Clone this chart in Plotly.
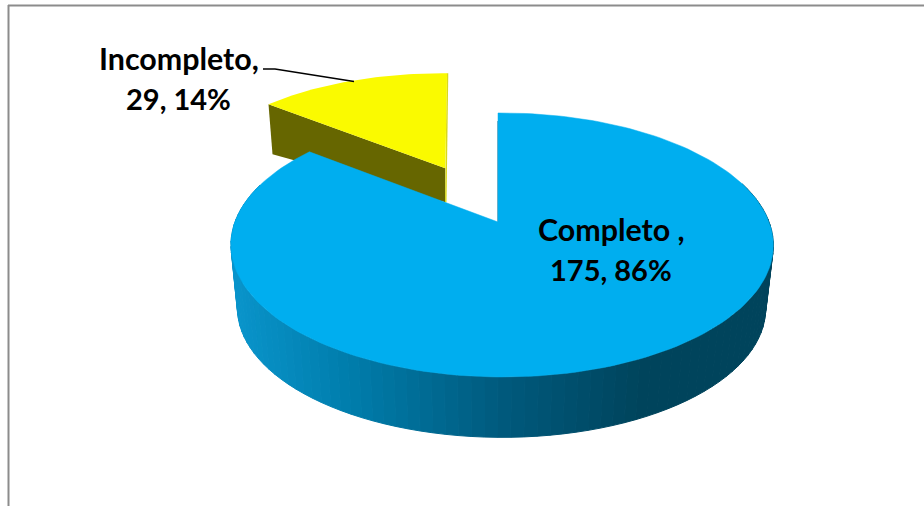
import math
import plotly.graph_objects as go

# ---- data ----
categories = ["Completo", "Incompleto"]
values = [175, 29]
percents = ["86%", "14%"]
label_lines = {"Completo": ["Completo ,", "175, 86%"], "Incompleto": ["Incompleto,", "29, 14%"]}

# ---- 3-D projection parameters (style only) ----
W, H = 924, 506
CX, CY, RX, RY = 498.0, 222.0, 267.0, 128.0
KV, KU = 0.174, -0.015
KU_SMALL = 0.015
SHEAR_SMALL, DX_SMALL = 0.06, 1.0
BCX, BCY, BRX, BRY = 497.5, 286.0, 260.0, 125.0
EXPLODE = 0.5
SWEEP_TWEAK = -1.0
BLUE, YELLOW, OLIVE = "#00AEEF", "#FAFA00", "#666600"
GRAD = [(230, (10, 150, 205)), (350, (0, 125, 172)), (500, (0, 90, 125)),
        (640, (0, 68, 92)), (780, (0, 68, 92))]

total = sum(values)
frac_blue = values[0] / total
sweep_blue = 360 * frac_blue


def proj(u, v, bottom=False):
    s = 1 / (1 + KV * v + KU * u)
    if bottom:
        return BCX + BRX * u * s, BCY - BRY * v * s
    return CX + RX * u * s, CY - RY * v * s


def proj_small(u, v):
    s = 1 / (1 + KV * v + KU_SMALL * u)
    y = CY - RY * v * s
    x = CX + RX * u * s + DX_SMALL + SHEAR_SMALL * (y - 170)
    return x, y


def circ(deg, ox=0.0, oy=0.0):
    a = math.radians(deg)
    return ox + math.sin(a), oy + math.cos(a)


def arc(a0, a1, n, bottom=False):
    return [proj(*circ(a0 + (a1 - a0) * i / n), bottom) for i in range(n + 1)]


def grad_color(x):
    for (x0, c0), (x1, c1) in zip(GRAD, GRAD[1:]):
        if x0 <= x <= x1:
            t = (x - x0) / (x1 - x0)
            c = [round(a + (b - a) * t) for a, b in zip(c0, c1)]
            return f"rgb({c[0]},{c[1]},{c[2]})"
    return f"rgb{GRAD[0][1] if x < GRAD[0][0] else GRAD[-1][1]}"


def poly(pts, fill, line=None, lw=0.0):
    xs = [p[0] for p in pts] + [pts[0][0]]
    ys = [p[1] for p in pts] + [pts[0][1]]
    return go.Scatter(x=xs, y=ys, mode="lines", fill="toself", fillcolor=fill,
                      line=dict(color=line or fill, width=lw), hoverinfo="skip", showlegend=False)


fig = go.Figure()

# exploded small slice
mid_y = sweep_blue + (360 - sweep_blue) / 2
ox, oy = circ(mid_y)
ox, oy = ox * EXPLODE, oy * EXPLODE
y_arc = [proj_small(*circ(sweep_blue + (360 - sweep_blue) * i / 40, ox, oy)) for i in range(41)]
y_apex = proj_small(ox, oy)
y_outer = y_arc[0]
y_end = y_arc[-1]
fig.add_trace(poly([y_outer, y_apex, (y_apex[0], y_apex[1] + 34), (y_outer[0] + 4, y_outer[1] + 50)], OLIVE))
fig.add_trace(go.Scatter(x=[y_end[0] + 0.5, y_apex[0] + 0.5, y_apex[0] + 0.5], y=[y_end[1], y_apex[1], y_apex[1] + 34],
                         mode="lines", line=dict(color="#D9D91A", width=1.5), hoverinfo="skip", showlegend=False))
fig.add_trace(poly(y_arc + [y_apex], YELLOW))

# big slice: rim with gradient
n_seg = 90
a_start, a_end = 72, 288
for i in range(n_seg):
    a0 = a_start + (a_end - a_start) * i / n_seg
    a1 = a_start + (a_end - a_start) * (i + 1) / n_seg
    t0, t1 = proj(*circ(a0)), proj(*circ(a1))
    b0, b1 = proj(*circ(a0), True), proj(*circ(a1), True)
    col = grad_color((b0[0] + b1[0]) / 2)
    fig.add_trace(poly([t0, t1, b1, b0], col, col, 1.0))

# big slice: inner edge and top
apex = proj(0, 0)
top_pt = proj(*circ(0))
fig.add_trace(go.Scatter(x=[top_pt[0] + 0.2, apex[0] + 0.2], y=[top_pt[1] + 8, apex[1]], mode="lines",
                         line=dict(color="#1F6F8F", width=1.5), hoverinfo="skip", showlegend=False))
fig.add_trace(poly(arc(0, sweep_blue + SWEEP_TWEAK, 180) + [apex], BLUE, BLUE, 0.5))

# leader line
fig.add_trace(go.Scatter(x=[263, 275, 354], y=[69, 69, 81.5], mode="lines",
                         line=dict(color="black", width=1.5), hoverinfo="skip", showlegend=False))

# labels
positions = {"Completo": (611, [229, 269]), "Incompleto": (178.5, [58, 98])}
sizes = [30.4, 29]
annotations = []
for cat in categories:
    x, ys = positions[cat]
    for line, y, sz in zip(label_lines[cat], ys, sizes):
        annotations.append(dict(x=x, y=y, text=f"<b>{line}</b>", showarrow=False, xanchor="center",
                                yanchor="middle", font=dict(family="Lato", size=sz, color="black")))

shapes = [
    dict(type="line", x0=8, x1=W, y0=5.5, y1=5.5, line=dict(color="#8C8C8C", width=2)),
    dict(type="line", x0=8.5, x1=8.5, y0=5, y1=H, line=dict(color="#8C8C8C", width=2)),
]

fig.update_layout(
    width=W, height=H, margin=dict(l=0, r=0, t=0, b=0), paper_bgcolor="white", plot_bgcolor="white",
    xaxis=dict(range=[0, W], visible=False, fixedrange=True),
    yaxis=dict(range=[H, 0], visible=False, fixedrange=True),
    annotations=annotations, shapes=shapes, showlegend=False,
)
fig.write_html("out.html", config={"displayModeBar": False},
               post_script="document.body.style.margin='0';document.body.style.overflow='hidden';")
